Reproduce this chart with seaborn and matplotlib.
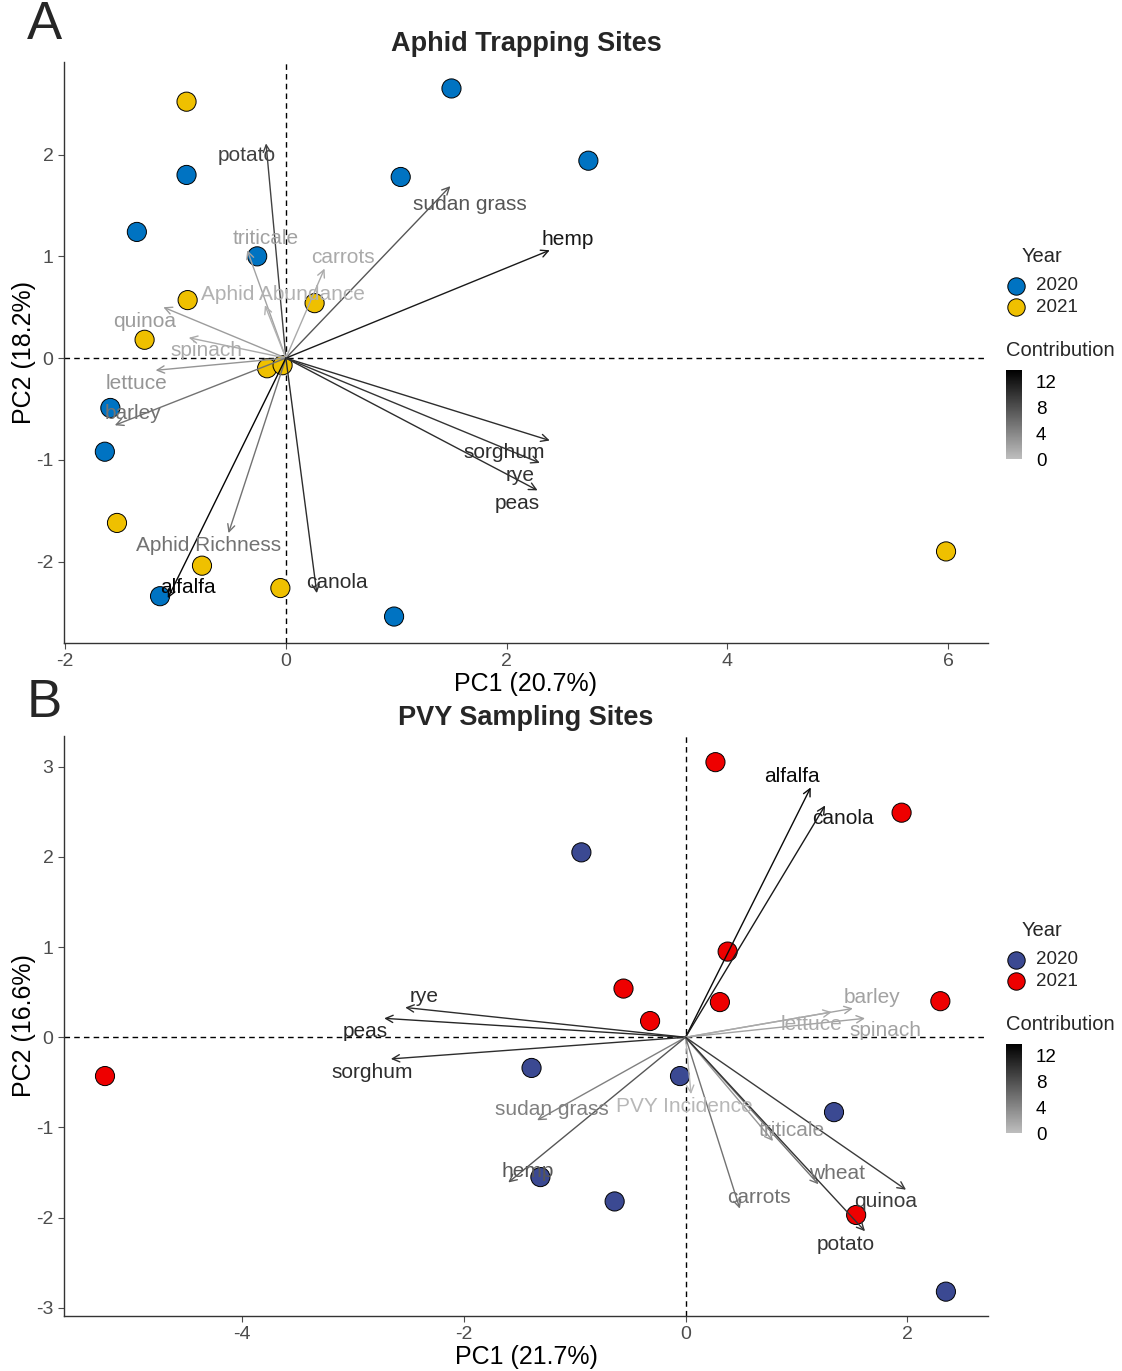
import numpy as np
import pandas as pd
import matplotlib
matplotlib.use("Agg")
import matplotlib.pyplot as plt
from matplotlib.colors import LinearSegmentedColormap, Normalize
from matplotlib.lines import Line2D
import seaborn as sns

# ---------------- Panel A: aphid trapping sites ----------------
a_pc1_2020 = [1.50, 2.74, -0.90, 1.04, -1.35, -0.26, -1.59, -1.64, -1.14, 0.98]
a_pc2_2020 = [2.65, 1.94, 1.80, 1.78, 1.24, 1.00, -0.49, -0.92, -2.34, -2.54]
a_pc1_2021 = [-0.90, -0.89, 0.26, -1.28, -0.17, -0.03, -1.53, -0.76, -0.05, 5.98]
a_pc2_2021 = [2.52, 0.57, 0.54, 0.18, -0.10, -0.07, -1.62, -2.04, -2.26, -1.90]

a_vars = ["potato", "sudan grass", "hemp", "triticale", "carrots",
          "Aphid Abundance", "quinoa", "spinach", "lettuce", "barley",
          "sorghum", "rye", "peas", "Aphid Richness", "alfalfa", "canola"]
a_var_pc1 = [-0.18, 1.49, 2.39, -0.35, 0.35, -0.19, -1.11, -0.88, -1.18, -1.55,
             2.39, 2.30, 2.28, -0.52, -1.07, 0.28]
a_var_pc2 = [2.11, 1.69, 1.06, 1.06, 0.88, 0.52, 0.50, 0.20, -0.12, -0.66,
             -0.81, -1.03, -1.30, -1.72, -2.36, -2.31]
a_contrib = [9.0, 7.5, 12.0, 2.0, 1.5, 1.0, 2.5, 1.5, 3.0, 5.5,
             10.5, 10.0, 10.5, 5.5, 13.5, 10.5]

# ---------------- Panel B: PVY sampling sites ----------------
b_pc1_2020 = [-0.94, -1.39, -0.05, 1.34, -1.31, -0.64, 2.35]
b_pc2_2020 = [2.05, -0.34, -0.43, -0.83, -1.55, -1.82, -2.82]
b_pc1_2021 = [0.27, 1.95, 0.38, -0.56, 0.31, 2.30, -0.32, -5.24, 1.54]
b_pc2_2021 = [3.05, 2.49, 0.95, 0.54, 0.39, 0.40, 0.18, -0.43, -1.97]

b_vars = ["alfalfa", "canola", "barley", "lettuce", "spinach", "rye", "peas",
          "sorghum", "sudan grass", "PVY Incidence", "hemp", "triticale",
          "wheat", "carrots", "quinoa", "potato"]
b_var_pc1 = [1.13, 1.26, 1.51, 1.32, 1.62, -2.53, -2.72, -2.66, -1.34, 0.05,
             -1.60, 0.79, 1.20, 0.49, 1.99, 1.62]
b_var_pc2 = [2.77, 2.57, 0.32, 0.28, 0.21, 0.33, 0.21, -0.24, -0.92, -0.63,
             -1.61, -1.15, -1.63, -1.90, -1.69, -2.15]
b_contrib = [13.0, 12.0, 2.0, 1.5, 2.0, 10.5, 11.0, 10.5, 4.5, 0.5,
             7.5, 3.0, 5.5, 5.5, 9.5, 10.0]

years = ["2020", "2021"]
a_palette = {"2020": "#0073C2", "2021": "#EFC000"}
b_palette = {"2020": "#3B4992", "2021": "#EE0000"}

# label offsets (pixels, x right / y up) from each arrow tip
a_label_off = [(-19, -12), (19, -18), (18, 11), (18, 12), (18, 11), (18, 11),
               (-19, -14), (18, -13), (-19, -13), (18, 12), (-46, -12),
               (-20, -13), (-20, -13), (-20, -12), (20, 11), (20, 11)]
b_label_off = [(-19, 11), (18, -13), (19, 11), (-20, -12), (20, -12), (19, 11),
               (-19, -13), (-19, -14), (15, 11), (-7, -12), (19, 11), (19, 11),
               (19, 11), (19, 11), (-20, -12), (-19, -13)]

sns.set_theme(style="ticks")
plt.rcParams["font.family"] = ["Liberation Sans", "DejaVu Sans"]

W, H = 1122, 1371
fig = plt.figure(figsize=(W / 100, H / 100), dpi=100)

cmap = LinearSegmentedColormap.from_list("contrib", ["#BEBEBE", "#000000"])
norm = Normalize(vmin=0, vmax=13.8)


def fx(px):
    return px / W


def fy(py):
    return 1 - py / H


def draw_panel(top, bottom, title, letter, xlab, ylab,
               p1_20, p2_20, p1_21, p2_21, palette,
               names, vx, vy, contrib, offs, xlim, ylim, xticks, yticks,
               leg_y, letter_y):
    ax = fig.add_axes([fx(64), fy(bottom), fx(988) - fx(64), fy(top) - fy(bottom)])
    df = pd.DataFrame({
        "PC1": p1_20 + p1_21,
        "PC2": p2_20 + p2_21,
        "Year": ["2020"] * len(p1_20) + ["2021"] * len(p1_21),
    })
    ax.axhline(0, color="black", ls=(0, (4, 3)), lw=1.0, zorder=1)
    ax.axvline(0, color="black", ls=(0, (4, 3)), lw=1.0, zorder=1)
    sns.scatterplot(data=df, x="PC1", y="PC2", hue="Year", hue_order=years,
                    palette=palette, s=190, edgecolor="black", linewidth=0.7,
                    legend=False, ax=ax, zorder=3)
    for name, x, y, c, off in zip(names, vx, vy, contrib, offs):
        col = cmap(norm(c))
        ax.annotate("", xy=(x, y), xytext=(0, 0),
                    arrowprops=dict(arrowstyle="->", color=col, lw=1.0,
                                    shrinkA=0, shrinkB=0, mutation_scale=13),
                    zorder=4)
        ax.annotate(name, xy=(x, y), xytext=off, textcoords="offset pixels",
                    ha="center", va="center", color=col, fontsize=15, zorder=5)
    ax.set_xlim(*xlim)
    ax.set_ylim(*ylim)
    ax.set_xticks(xticks)
    ax.set_yticks(yticks)
    ax.set_xticklabels([str(t) for t in xticks])
    ax.set_yticklabels([str(t) for t in yticks])
    ax.tick_params(labelsize=14, colors="#4D4D4D", length=4, width=0.8,
                   labelcolor="#4D4D4D")
    ax.set_xlabel(xlab, fontsize=18, color="black", labelpad=1)
    ax.set_ylabel(ylab, fontsize=18, color="black", labelpad=0)
    for sp in ["left", "bottom"]:
        ax.spines[sp].set_color("#333333")
        ax.spines[sp].set_linewidth(1.0)
    sns.despine(ax=ax)
    ax.set_title(title, fontsize=19.5, fontweight="bold", pad=8)
    fig.text(fx(27), fy(letter_y), letter, fontsize=38, ha="left", va="center")

    # Year legend
    fig.text(fx(1042), fy(leg_y), "Year", fontsize=14.5, ha="center", va="center")
    for i, yr in enumerate(years):
        yy = leg_y + 30 + 21 * i
        fig.add_artist(Line2D([fx(1016)], [fy(yy)], marker="o", ls="",
                              markersize=12.5, markerfacecolor=palette[yr],
                              markeredgecolor="black", markeredgewidth=0.7,
                              transform=fig.transFigure))
        fig.text(fx(1036), fy(yy), yr, fontsize=13.5, ha="left", va="center")

    # Contribution colour bar
    fig.text(fx(1006), fy(leg_y + 94), "Contribution", fontsize=14.5,
             ha="left", va="center")
    cax = fig.add_axes([fx(1006), fy(leg_y + 203), fx(1022) - fx(1006),
                        fy(leg_y + 114) - fy(leg_y + 203)])
    sm = plt.cm.ScalarMappable(norm=norm, cmap=cmap)
    cb = fig.colorbar(sm, cax=cax, ticks=[0, 4, 8, 12])
    cb.outline.set_visible(False)
    cb.ax.tick_params(length=3, color="white", width=0.8, labelsize=13.5,
                      labelcolor="black", direction="in", pad=10)
    return ax


draw_panel(62, 643, "Aphid Trapping Sites", "A", "PC1 (20.7%)", "PC2 (18.2%)",
           a_pc1_2020, a_pc2_2020, a_pc1_2021, a_pc2_2021, a_palette,
           a_vars, a_var_pc1, a_var_pc2, a_contrib, a_label_off,
           (-2.01, 6.36), (-2.80, 2.91), [-2, 0, 2, 4, 6], [-2, -1, 0, 1, 2],
           256, 25)

draw_panel(736, 1316, "PVY Sampling Sites", "B", "PC1 (21.7%)", "PC2 (16.6%)",
           b_pc1_2020, b_pc2_2020, b_pc1_2021, b_pc2_2021, b_palette,
           b_vars, b_var_pc1, b_var_pc2, b_contrib, b_label_off,
           (-5.61, 2.73), (-3.09, 3.34), [-4, -2, 0, 2], [-3, -2, -1, 0, 1, 2, 3],
           930, 703)

fig.savefig("out.png", dpi=100)
